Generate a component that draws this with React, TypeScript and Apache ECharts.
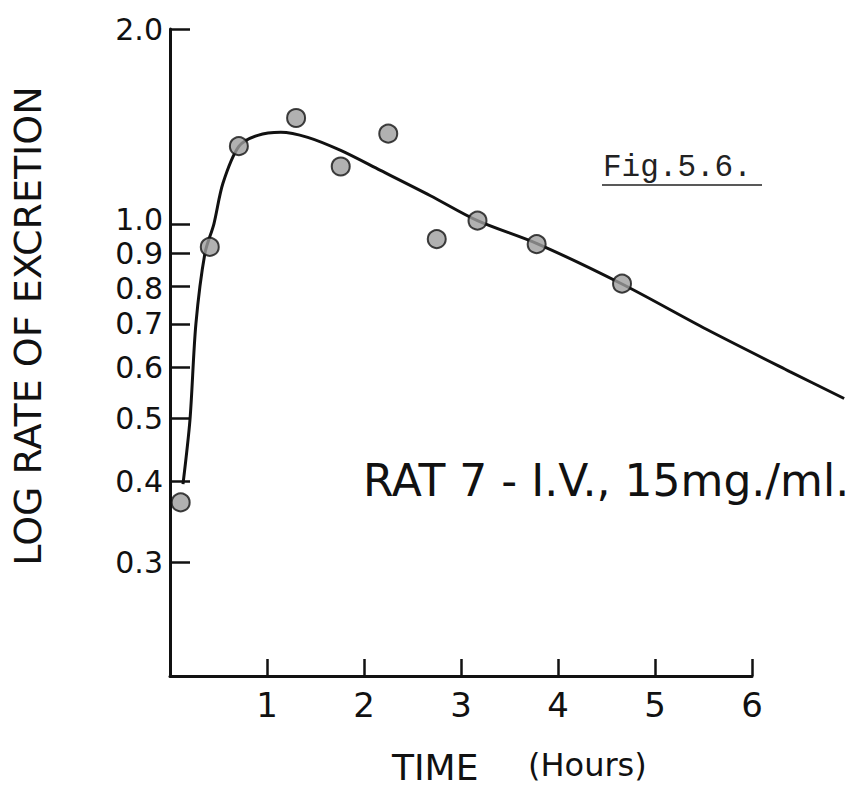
import React, { useEffect, useRef } from 'react';
import * as echarts from 'echarts';

// Measured points (time in hours, rate of excretion on log scale)
const pointHours = [0.11, 0.41, 0.71, 1.3, 1.76, 2.25, 2.75, 3.17, 3.78, 4.66];
const pointRate = [0.371, 0.921, 1.318, 1.457, 1.226, 1.378, 0.947, 1.011, 0.93, 0.808];

// Hand-fitted smooth curve
const curveHours = [0.134, 0.206, 0.267, 0.36, 0.453, 0.545, 0.71, 0.905, 1.142, 1.42, 1.76, 2.17, 2.685, 3.17, 3.79, 4.66, 5.53, 6.39, 6.95];
const curveRate = [0.396, 0.498, 0.7, 0.9, 1.0, 1.154, 1.317, 1.37, 1.385, 1.36, 1.298, 1.209, 1.105, 1.011, 0.931, 0.807, 0.687, 0.591, 0.537];

const xTickValues = [1, 2, 3, 4, 5, 6];
const yTickValues = [0.3, 0.4, 0.5, 0.6, 0.7, 0.8, 0.9, 1.0, 2.0];

const yAxisTitle = 'LOG RATE OF EXCRETION';
const xAxisTitleMain = 'TIME';
const xAxisTitleUnit = '(Hours)';
const annotation = 'RAT 7 - I.V., 15mg./ml.';
const figLabel = 'Fig.5.6.';

const INK = '#111';
const SANS = '"DejaVu Sans", sans-serif';

export default function App() {
  const ref = useRef<HTMLDivElement>(null);

  useEffect(() => {
    if (!ref.current) return;
    const chart = echarts.init(ref.current, undefined, { renderer: 'svg' });
    const points = pointHours.map((h, i) => [h, pointRate[i]]);
    const curve = curveHours.map((h, i) => [h, curveRate[i]]);

    const yLabelText = { fontSize: 30, fontFamily: SANS, color: INK, lineHeight: 26 };

    chart.setOption({
      animation: false,
      backgroundColor: '#ffffff',
      grid: [
        // visible axes: 0..6 hours
        { left: 170, top: 29, width: 582, height: 647, containLabel: false },
        // same scale, extended to 7 hours, so the fitted curve runs past the axis end
        { left: 170, top: 29, width: 679, height: 647, containLabel: false },
      ],
      xAxis: [
        {
          type: 'value',
          gridIndex: 0,
          min: 0,
          max: 6,
          interval: 1,
          axisLine: { show: true, onZero: false, lineStyle: { color: INK, width: 3 } },
          axisTick: {
            show: true,
            inside: true,
            length: 17,
            customValues: xTickValues,
            lineStyle: { color: INK, width: 2.5 },
          },
          axisLabel: {
            show: true,
            customValues: xTickValues,
            margin: 12,
            color: INK,
            fontSize: 34,
            fontFamily: SANS,
            formatter: (v: number) => String(Math.round(v)),
          },
          splitLine: { show: false },
        },
        {
          type: 'value',
          gridIndex: 1,
          min: 0,
          max: 7,
          show: false,
        },
      ],
      yAxis: [
        {
          type: 'log',
          gridIndex: 0,
          logBase: 10,
          min: 0.2,
          max: 2.0,
          axisLine: { show: true, lineStyle: { color: INK, width: 3 } },
          axisTick: {
            show: true,
            inside: true,
            length: 20,
            customValues: yTickValues,
            lineStyle: { color: INK, width: 2.5 },
          },
          axisLabel: {
            show: true,
            customValues: yTickValues,
            margin: 7,
            color: INK,
            fontSize: 30,
            lineHeight: 26,
            fontFamily: SANS,
            formatter: (v: number) => {
              const s = v.toFixed(1);
              if (Math.abs(v - 1) < 1e-6) return '{up|' + s + '}';
              if (Math.abs(v - 0.8) < 1e-6) return '{dn|' + s + '}';
              return '{n|' + s + '}';
            },
            rich: {
              n: { ...yLabelText },
              up: { ...yLabelText, padding: [0, 0, 8, 0] },
              dn: { ...yLabelText, padding: [4, 0, 0, 0] },
            },
          },
          splitLine: { show: false },
          minorTick: { show: false },
        },
        {
          type: 'log',
          gridIndex: 1,
          logBase: 10,
          min: 0.2,
          max: 2.0,
          show: false,
        },
      ],
      series: [
        {
          name: 'fitted curve',
          type: 'line',
          xAxisIndex: 1,
          yAxisIndex: 1,
          data: curve,
          smooth: 0.3,
          clip: false,
          showSymbol: false,
          symbol: 'none',
          lineStyle: { color: INK, width: 3 },
          z: 2,
        },
        {
          name: 'measured',
          type: 'scatter',
          xAxisIndex: 0,
          yAxisIndex: 0,
          data: points,
          symbol: 'circle',
          symbolSize: 18,
          clip: false,
          itemStyle: { color: '#9e9e9e', borderColor: INK, borderWidth: 2 },
          z: 3,
        },
      ],
      graphic: [
        {
          type: 'text',
          x: 28,
          y: 326,
          rotation: Math.PI / 2,
          style: {
            text: yAxisTitle,
            fontSize: 38,
            fontFamily: SANS,
            fill: INK,
            align: 'center',
            verticalAlign: 'middle',
          },
        },
        {
          type: 'text',
          x: 392,
          y: 767,
          style: {
            text: xAxisTitleMain,
            fontSize: 36,
            fontFamily: SANS,
            fill: INK,
            align: 'left',
            verticalAlign: 'middle',
          },
        },
        {
          type: 'text',
          x: 528,
          y: 765,
          style: {
            text: xAxisTitleUnit,
            fontSize: 32,
            fontFamily: SANS,
            fill: INK,
            align: 'left',
            verticalAlign: 'middle',
          },
        },
        {
          type: 'text',
          x: 363,
          y: 480,
          style: {
            text: annotation,
            fontSize: 44,
            fontFamily: SANS,
            fill: INK,
            align: 'left',
            verticalAlign: 'middle',
          },
        },
        {
          type: 'text',
          x: 603,
          y: 167,
          style: {
            text: figLabel,
            fontSize: 31,
            fontFamily: '"Liberation Mono", monospace',
            fill: '#222',
            align: 'left',
            verticalAlign: 'middle',
          },
        },
        {
          type: 'line',
          shape: { x1: 602, y1: 185, x2: 762, y2: 185 },
          style: { stroke: '#222', lineWidth: 1.5 },
        },
      ],
    });

    return () => {
      chart.dispose();
    };
  }, []);

  return (
    <div
      ref={ref}
      style={{ position: 'fixed', left: 0, top: 0, width: 854, height: 787, background: '#fff' }}
    />
  );
}
